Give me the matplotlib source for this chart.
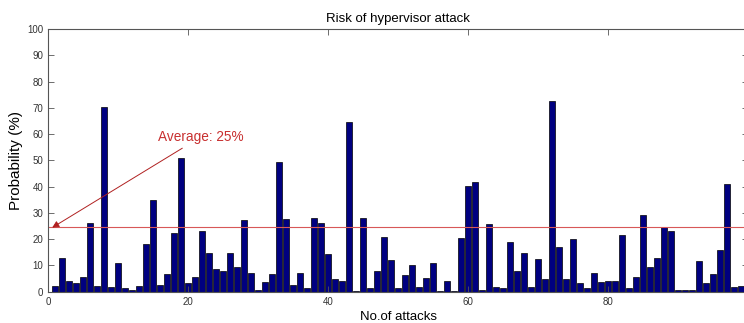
import matplotlib
matplotlib.use("Agg")
import matplotlib.pyplot as plt

plt.rcParams["font.family"] = ["Liberation Sans", "DejaVu Sans"]

attacks = list(range(1, 100))
probability = [
    2.2, 12.7, 4.1, 3.2, 5.7, 26.0, 2.3, 70.4, 1.9, 10.8,
    1.4, 0.6, 2.2, 18.0, 34.9, 2.4, 6.8, 22.5, 51.0, 3.2,
    5.7, 23.0, 14.9, 8.6, 7.8, 14.9, 9.5, 27.4, 7.3, 0.6,
    3.8, 6.6, 49.2, 27.6, 2.5, 7.0, 1.5, 28.1, 26.0, 14.2,
    5.0, 4.2, 64.5, 0.4, 28.2, 1.5, 7.9, 21.0, 12.0, 1.5,
    6.3, 10.2, 1.9, 5.3, 10.9, 0.4, 4.1, 0.4, 20.6, 40.3,
    41.8, 0.6, 25.7, 1.6, 1.3, 19.1, 8.0, 14.6, 1.9, 12.5,
    4.9, 72.7, 17.0, 4.9, 19.9, 3.4, 1.3, 7.3, 3.8, 4.1,
    4.1, 21.4, 1.3, 5.7, 29.1, 9.5, 13.0, 24.5, 23.0, 0.6,
    0.5, 0.5, 11.8, 3.2, 6.7, 16.0, 41.1, 1.6, 2.3,
]
average = 24.5
avg_label = "Average: 25%"

fig = plt.figure(figsize=(7.44, 3.23), dpi=100)
# axes runs slightly past the right edge, as in the cropped original
ax = fig.add_axes([48 / 744, 31.3 / 323, 700 / 744, 262.7 / 323])

ax.bar(attacks, probability, width=0.8, color="#000080", edgecolor="black", linewidth=0.5)
ax.axhline(average, color="#d85858", linewidth=0.8)

ax.annotate(avg_label, xy=(0.6, 24.4), xytext=(15.7, 58.9),
            color="#c83030", fontsize=9.8, va="center", ha="left",
            arrowprops=dict(arrowstyle="-|>", color="#b02020", lw=0.7,
                            mutation_scale=10, shrinkA=2, shrinkB=0))

ax.set_xlim(0, 100)
ax.set_ylim(0, 100)
ax.set_xticks(range(0, 100, 20))
ax.set_yticks(range(0, 101, 10))
ax.tick_params(direction="in", top=True, right=True, length=4, width=0.6,
               labelsize=7, colors="#555555")
ax.tick_params(labelcolor="#333333")
for s in ax.spines.values():
    s.set_color("#555555")
    s.set_linewidth(0.8)

ax.set_title("Risk of hypervisor attack", fontsize=9.5, pad=5)
ax.set_xlabel("No.of attacks", fontsize=9.5, labelpad=3)
ax.set_ylabel("Probability (%)", fontsize=11, labelpad=3)

fig.savefig("out.png", dpi=100)
